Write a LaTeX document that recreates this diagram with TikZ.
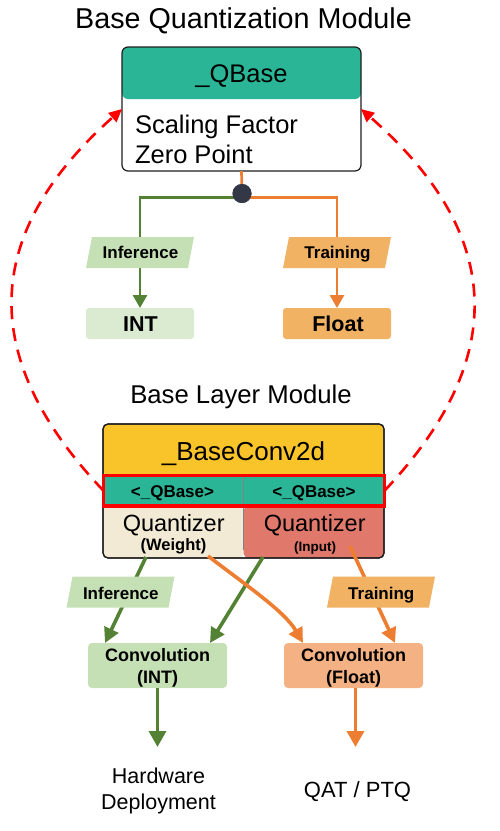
\documentclass[tikz,border=0pt]{standalone}
\usepackage{fontspec}
\setmainfont{Liberation Sans}
\usetikzlibrary{arrows.meta,calc}

\definecolor{qteal}{RGB}{42,182,150}
\definecolor{qyellow}{RGB}{248,196,42}
\definecolor{qbeige}{RGB}{242,234,212}
\definecolor{qred}{RGB}{224,120,108}
\definecolor{lgreen}{RGB}{84,130,53}
\definecolor{lorange}{RGB}{237,125,49}
\definecolor{fgreen}{RGB}{197,224,180}
\definecolor{fgreenl}{RGB}{218,235,210}
\definecolor{forange}{RGB}{241,178,100}
\definecolor{fsalmon}{RGB}{244,177,131}
\definecolor{dotc}{RGB}{52,56,70}
\definecolor{hlred}{RGB}{255,0,0}
\definecolor{divgray}{RGB}{130,130,130}
\definecolor{edgec}{RGB}{30,30,30}

\newcommand\fsz[2]{\fontsize{#1}{#2}\selectfont}
\newcommand\plg[2]{\fill[#2] ($(#1)+(-54,15.5)$) -- ($(#1)+(48,15.5)$) -- ($(#1)+(54,-15.5)$) -- ($(#1)+(-48,-15.5)$) -- cycle;}

\begin{document}
\begin{tikzpicture}[x=1pt,y=-1pt,
  txt/.style={inner sep=0pt, outer sep=0pt},
  boxed/.style={inner sep=0pt, outer sep=0pt},
  garrow/.style={draw=lgreen, line width=2.7, -{Triangle[length=13,width=14]}},
  oarrow/.style={draw=lorange, line width=2.7, -{Triangle[length=13,width=14]}},
  garrowb/.style={draw=lgreen, line width=3.6, -{Triangle[length=15,width=15]}},
  oarrowb/.style={draw=lorange, line width=3.6, -{Triangle[length=15,width=15]}},
  garrowc/.style={draw=lgreen, line width=3.5, -{Triangle[length=16,width=17]}},
  oarrowc/.style={draw=lorange, line width=3.5, -{Triangle[length=16,width=17]}},
  reddash/.style={draw=hlred, line width=2.6, dash pattern=on 13pt off 9pt, -{Triangle[length=13,width=12]}},
  lbl/.style={txt, font=\fsz{17}{20}\bfseries, anchor=base},
]
\useasboundingbox (0,0) rectangle (499,831);

% ---------- titles
\node[txt, anchor=base, font=\fsz{28.7}{34}] (title1) at (243.5,28) {Base Quantization Module};
\node[txt, anchor=base, font=\fsz{25.7}{30}] (title2) at (241,403) {Base Layer Module};

% ---------- QBase module
\node[boxed, draw=edgec, line width=1.2, rounded corners=6, fill=white,
      minimum width=239, minimum height=124,
      path picture={\fill[qteal] (path picture bounding box.north west) rectangle ($(path picture bounding box.north east)+(0,52)$);}]
      (qbase) at (241.5,109) {};
\node[txt, anchor=base, font=\fsz{25.5}{30}] (qbt) at (241.5,82) {\_QBase};
\node[txt, anchor=base west, align=left, font=\fsz{25.5}{30}] (qbb) at (135,163) {Scaling Factor\\Zero Point};

% ---------- split
\node[circle, fill=dotc, minimum size=19, inner sep=0pt] (dot) at (242,193.5) {};
\coordinate (split) at (242,197.5);

\node[boxed, fill=fgreenl, rounded corners=3, minimum width=108, minimum height=31] (intb) at (140,323.5) {};
\node[boxed, fill=forange, rounded corners=3, minimum width=108, minimum height=31] (floatb) at (337,323.5) {};

\draw[draw=lorange, line width=2.7] (qbase.south) -- (dot);
\draw[garrow] (split) -| (intb.north);
\draw[oarrow] (split) -| (floatb.north);
\node[circle, fill=dotc, minimum size=19, inner sep=0pt] at (dot) {};

\coordinate (infA) at (140,252.5);
\coordinate (trnA) at (337,252.5);
\plg{infA}{fgreen}
\plg{trnA}{forange}
\node[lbl] (infAt) at (140.5,258.3) {Inference};
\node[lbl] (trnAt) at (337.5,258.3) {Training};
\node[txt, anchor=base, font=\fsz{21.5}{25}\bfseries] (intt) at (140.5,331.7) {INT};
\node[txt, anchor=base, font=\fsz{21.5}{25}\bfseries] (floatt) at (338,331.7) {Float};

% ---------- BaseConv2d module
\node[boxed, draw=edgec, line width=1.2, rounded corners=5, fill=white,
      minimum width=281, minimum height=134,
      path picture={
        \fill[qyellow] (path picture bounding box.north west) rectangle ($(path picture bounding box.north east)+(0,51)$);
        \fill[qteal] ($(path picture bounding box.north west)+(0,51)$) rectangle ($(path picture bounding box.north east)+(0,82)$);
        \fill[qbeige] ($(path picture bounding box.north west)+(0,82)$) rectangle ($(path picture bounding box.south west)+(140.5,0)$);
        \fill[qred] ($(path picture bounding box.north west)+(140.5,82)$) rectangle (path picture bounding box.south east);
        \draw[divgray, line width=1.5] ($(path picture bounding box.north west)+(140.5,51)$) -- ($(path picture bounding box.south west)+(140.5,-8)$);
      }]
      (bconv) at (243.5,491) {};
\node[boxed, draw=edgec, line width=1.2, rounded corners=5, minimum width=281, minimum height=134] at (bconv) {};
\node[boxed, draw=hlred, line width=3.3, minimum width=281, minimum height=30.5] (qrow) at (244,490.75) {};

\node[txt, anchor=base, font=\fsz{26}{30}] (bct) at (243.5,460) {\_BaseConv2d};
\node[txt, anchor=base, font=\fsz{17}{20}\bfseries] (qlt) at (172.5,497.3) {<\_QBase>};
\node[txt, anchor=base, font=\fsz{17}{20}\bfseries] (qrt) at (314,497.3) {<\_QBase>};
\node[txt, anchor=base, font=\fsz{23.5}{28}] (qzl) at (173.7,531.7) {Quantizer};
\node[txt, anchor=base, font=\fsz{23.5}{28}] (qzr) at (314.7,531.7) {Quantizer};
\node[txt, anchor=base, font=\fsz{16.5}{20}\bfseries] (qzlw) at (173.5,550) {(Weight)};
\node[txt, anchor=base, font=\fsz{13.5}{16}\bfseries] (qzri) at (315,551) {(Input)};

% ---------- convolutions
\node[boxed, fill=fgreen, rounded corners=4, minimum width=139, minimum height=45] (convint) at (157.5,665.5) {};
\node[boxed, fill=fsalmon, rounded corners=4, minimum width=139, minimum height=45] (convfl) at (353.5,665.5) {};
\node[txt, anchor=base, align=center, font=\fsz{18}{21.5}\bfseries] (convintt) at (157.5,683.2) {Convolution\\(INT)};
\node[txt, anchor=base, align=center, font=\fsz{18}{21.5}\bfseries] (convflt) at (353.5,683.2) {Convolution\\(Float)};

\coordinate (g1s) at (146,557);
\coordinate (o1s) at (208,556);
\coordinate (g2s) at (263,557);
\coordinate (o2s) at (350,546);
\coordinate (g1e) at ($(convint.north west)+(17,0)$);
\coordinate (g2e) at ($(convint.north east)+(-17,0)$);
\coordinate (o1e) at ($(convfl.north west)+(19,0)$);
\coordinate (o2e) at ($(convfl.north east)+(-28,0)$);

\draw[garrowb] (g1s) -- (g1e);
\draw[garrowb] (g2s) -- (g2e);
\draw[oarrowb] (o1s) .. controls (250,588) and (285,612) .. (o1e);
\draw[oarrowb] (o2s) -- (o2e);

\coordinate (infB) at (120.5,592);
\coordinate (trnB) at (381,592);
\plg{infB}{fgreen}
\plg{trnB}{forange}
\node[lbl] (infBt) at (120.8,599.3) {Inference};
\node[lbl] (trnBt) at (381.3,599.3) {Training};

% ---------- outputs
\coordinate (hwend) at ($(convint.south)+(0,59)$);
\coordinate (qatend) at ($(convfl.south)+(2,59)$);
\draw[garrowc] (convint.south) -- (hwend);
\draw[oarrowc] ($(convfl.south)+(2,0)$) -- (qatend);
\node[txt, anchor=base, align=center, font=\fsz{21.5}{26}] (hw) at (158.5,809.3) {Hardware\\Deployment};
\node[txt, anchor=base, font=\fsz{22}{26}] (qat) at (357.5,797.3) {QAT / PTQ};

% ---------- red dashed feedback arrows
\draw[reddash] (qrow.west) .. controls (-35,345) and (-5,222) .. (qbase.west);
\draw[reddash] (qrow.east) .. controls (522,345) and (490,222) .. (qbase.east);

\end{tikzpicture}
\end{document}
